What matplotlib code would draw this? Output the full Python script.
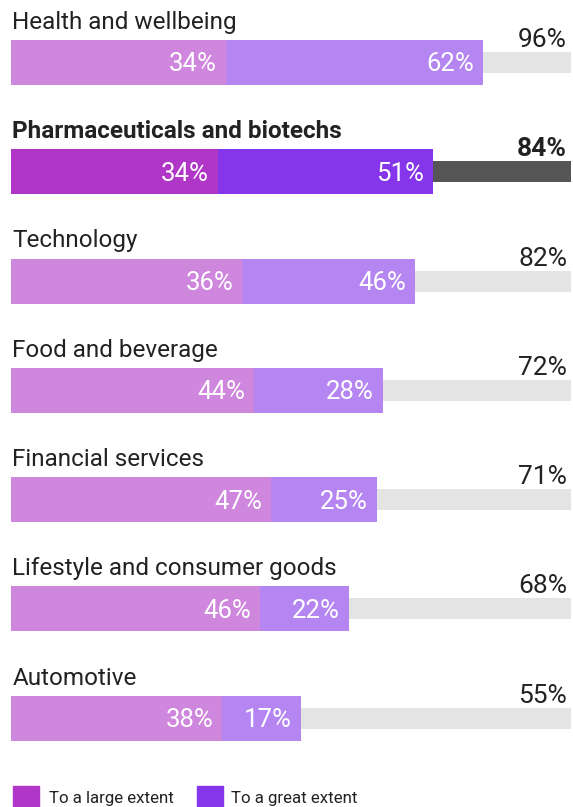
import matplotlib
matplotlib.use("Agg")
import matplotlib.pyplot as plt
from matplotlib.patches import Rectangle

# ─────────────────────────────────────────────
# Data
# ─────────────────────────────────────────────
categories = [
    "Health and wellbeing",
    "Pharmaceuticals and biotechs",
    "Technology",
    "Food and beverage",
    "Financial services",
    "Lifestyle and consumer goods",
    "Automotive",
]
large_pct = [34, 34, 36, 44, 47, 46, 38]   # label: to a large extent
great_pct = [62, 51, 46, 28, 25, 22, 17]   # label: to a great extent
total_pct = [96, 84, 82, 72, 71, 68, 55]

# segment lengths as drawn in the source (same scale as the grey track = 112)
large_len = [43.0, 41.4, 46.2, 48.6, 52.0, 49.8, 42.2]
great_len = [51.4, 43.0, 34.6, 25.8, 21.2, 17.8, 15.8]
track_len = 112

highlight = "Pharmaceuticals and biotechs"

# colours
c_large, c_great, c_track = "#cf86dd", "#b586f2", "#e4e4e4"
c_large_hi, c_great_hi, c_track_hi = "#b036c8", "#8535ea", "#555555"
c_text = "#222222"

plt.rcParams["font.family"] = ["Roboto", "DejaVu Sans"]

W, H, DPI = 573, 807, 100
fig = plt.figure(figsize=(W / DPI, H / DPI), dpi=DPI)
fig.patch.set_facecolor("white")
ax = fig.add_axes([0, 0, 1, 1])
ax.axis("off")

# pixel geometry of the layout
x0_px, px_per_unit = 11, 5.0
row0_px, row_px = 62.4, 109.3
ax.set_xlim(-x0_px / px_per_unit, (W - x0_px) / px_per_unit)
ax.set_ylim((H - row0_px) / row_px, -row0_px / row_px)

bar_h = 45 / row_px
track_h = 21 / row_px
ys = list(range(len(categories)))

for i, cat in enumerate(categories):
    hi = cat == highlight
    cl = c_large_hi if hi else c_large
    cg = c_great_hi if hi else c_great
    ct = c_track_hi if hi else c_track
    weight = "bold" if hi else "normal"

    # grey track behind everything
    ax.barh(ys[i], track_len, height=track_h, color=ct, zorder=1)
    ax.barh(ys[i], large_len[i], height=bar_h, color=cl, zorder=2)
    ax.barh(ys[i], great_len[i], left=large_len[i], height=bar_h, color=cg, zorder=2)

    # category label above bar
    ax.text(0.3, ys[i] - bar_h / 2 - 11 / row_px, cat, fontsize=17.5,
            color=c_text, fontweight=weight, va="baseline", ha="left")

    # total on the right, sitting on the track
    ax.text((567 - x0_px) / px_per_unit, ys[i] - track_h / 2 - 5 / row_px,
            f"{total_pct[i]}%", fontsize=19, color=c_text, fontweight=weight,
            va="baseline", ha="right")

    # segment values
    pad = 9 / px_per_unit
    ax.text(large_len[i] - pad, ys[i] + 2 / row_px, f"{large_pct[i]}%",
            fontsize=18.5, color="white", fontweight="normal",
            va="center", ha="right", zorder=3)
    ax.text(large_len[i] + great_len[i] - pad, ys[i] + 2 / row_px, f"{great_pct[i]}%",
            fontsize=18.5, color="white", fontweight="normal",
            va="center", ha="right", zorder=3)

# legend at the bottom (cut by the frame, as in the source)
def fx(px):
    return px / W

def fy(px):
    return 1 - px / H

for sx, tx, col, lab in [(13, 49, c_large_hi, "To a large extent"),
                         (197, 231, c_great_hi, "To a great extent")]:
    fig.add_artist(Rectangle((fx(sx), fy(812)), 26 / W, 26 / H,
                             transform=fig.transFigure, color=col))
    fig.text(fx(tx), fy(803), lab, fontsize=12.2, color=c_text,
             va="baseline", ha="left")

fig.savefig("out.png", dpi=DPI, facecolor="white")
